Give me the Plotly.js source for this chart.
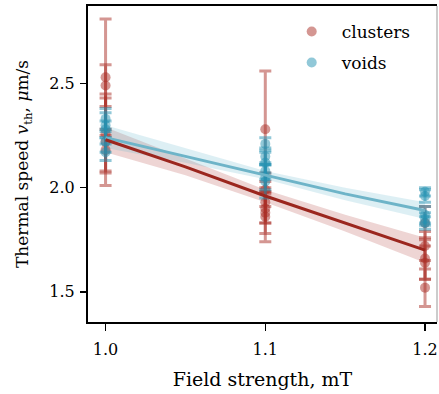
<!DOCTYPE html>
<html>
<head>
<meta charset="utf-8">
<script src="https://cdn.plot.ly/plotly-3.0.1.min.js"></script>
<style>html,body{margin:0;padding:0;background:#fff;}#chart{width:439px;height:394px;}</style>
</head>
<body>
<div id="chart"></div>
<script>
// Field strength (mT) for each measurement
const clustersX = [1.0,1.0,1.0,1.0,1.0, 1.1,1.1,1.1,1.1,1.1,1.1, 1.2,1.2,1.2,1.2,1.2];
const clustersY = [2.53,2.49,2.26,2.22,2.18, 2.28,1.99,1.93,1.90,1.88,1.86, 1.83,1.72,1.66,1.64,1.52];
const clustersErr = [0.28,0.10,0.19,0.21,0.10, 0.28,0.08,0.10,0.07,0.10,0.12, 0.08,0.07,0.10,0.08,0.09];

const voidsX = [1.0,1.0,1.0,1.0,1.0, 1.1,1.1,1.1,1.1,1.1,1.1, 1.2,1.2,1.2,1.2,1.2];
const voidsY = [2.33,2.30,2.28,2.22,2.17, 2.21,2.15,2.12,2.08,2.05,2.03, 1.98,1.96,1.87,1.85,1.83];
const voidsErr = [0.05,0.06,0.04,0.05,0.04, 0.03,0.04,0.05,0.04,0.06,0.08, 0.02,0.03,0.04,0.03,0.03];

// Fitted lines and confidence bands
const fitX = [1.0, 1.05, 1.1, 1.15, 1.2];
const clustersFit = [2.23, 2.10, 1.96, 1.83, 1.70];
const clustersLo = [2.17, 2.06, 1.93, 1.79, 1.64];
const clustersHi = [2.29, 2.14, 1.99, 1.87, 1.76];
const voidsFit = [2.24, 2.15, 2.06, 1.97, 1.89];
const voidsLo = [2.19, 2.12, 2.04, 1.94, 1.85];
const voidsHi = [2.30, 2.19, 2.08, 2.00, 1.93];

const xTicks = [1.0, 1.1, 1.2];
const xTickLabels = ['1.0', '1.1', '1.2'];
const yTicks = [1.5, 2.0, 2.5];
const yTickLabels = ['1.5', '2.0', '2.5'];

const RED_A = 'rgba(170,45,38,0.5)';
const BLUE_A = 'rgba(35,145,178,0.5)';
const FONT = 'DejaVu Serif';

const traces = [
  {x: fitX.concat(fitX.slice().reverse()), y: clustersHi.concat(clustersLo.slice().reverse()),
   fill: 'toself', fillcolor: 'rgba(168,45,38,0.2)', line: {width: 0}, mode: 'lines',
   hoverinfo: 'skip', showlegend: false},
  {x: fitX.concat(fitX.slice().reverse()), y: voidsHi.concat(voidsLo.slice().reverse()),
   fill: 'toself', fillcolor: 'rgba(100,180,205,0.22)', line: {width: 0}, mode: 'lines',
   hoverinfo: 'skip', showlegend: false},
  {x: clustersX, y: clustersY, name: 'clusters', legendgroup: 'c', mode: 'markers', type: 'scatter',
   marker: {color: RED_A, size: 10, line: {width: 0}},
   error_y: {type: 'data', array: clustersErr, visible: true, color: RED_A, thickness: 3, width: 6}},
  {x: voidsX, y: voidsY, name: 'voids', legendgroup: 'v', mode: 'markers', type: 'scatter',
   marker: {color: BLUE_A, size: 10, line: {width: 0}},
   error_y: {type: 'data', array: voidsErr, visible: true, color: BLUE_A, thickness: 3, width: 6}},
  {x: fitX, y: voidsFit, mode: 'lines', line: {color: 'rgb(110,180,200)', width: 3}, showlegend: false, hoverinfo: 'skip'},
  {x: fitX, y: clustersFit, mode: 'lines', line: {color: 'rgb(155,38,30)', width: 3}, showlegend: false, hoverinfo: 'skip'}
];

const layout = {
  width: 439, height: 394,
  margin: {l: 88, r: 2, t: 6, b: 72},
  paper_bgcolor: '#fff', plot_bgcolor: '#fff',
  font: {family: FONT, size: 16, color: '#000'},
  showlegend: true,
  legend: {x: 0.555, y: 0.975, xanchor: 'left', yanchor: 'top', bgcolor: 'rgba(0,0,0,0)',
           font: {family: FONT, size: 17}, itemwidth: 50, tracegroupgap: 6},
  xaxis: {range: [0.989, 1.2075], tickvals: xTicks, ticktext: xTickLabels,
          showgrid: false, zeroline: false, showline: true, linecolor: '#000', linewidth: 2,
          mirror: true, ticks: 'outside', ticklen: 7, tickwidth: 1.5, tickcolor: '#000',
          ticklabelstandoff: 5,
          tickfont: {family: FONT, size: 16},
          title: {text: 'Field strength, mT', font: {family: FONT, size: 19}, standoff: 14}},
  yaxis: {range: [1.355, 2.872], tickvals: yTicks, ticktext: yTickLabels,
          showgrid: false, zeroline: false, showline: true, linecolor: '#000', linewidth: 2,
          ticks: 'outside', ticklen: 6, tickwidth: 1.5, tickcolor: '#000',
          ticklabelstandoff: 2,
          tickfont: {family: FONT, size: 16},
          title: {text: 'Thermal speed <i>v</i><sub>th</sub>, <i>μ</i>m/s', font: {family: FONT, size: 17}, standoff: 16}},
  shapes: [{type: 'line', xref: 'paper', yref: 'paper', x0: 1, x1: 1, y0: 0, y1: 1,
            line: {color: '#999', width: 1}}]
};

Plotly.newPlot('chart', traces, layout, {displayModeBar: false, staticPlot: true});
</script>
</body>
</html>
